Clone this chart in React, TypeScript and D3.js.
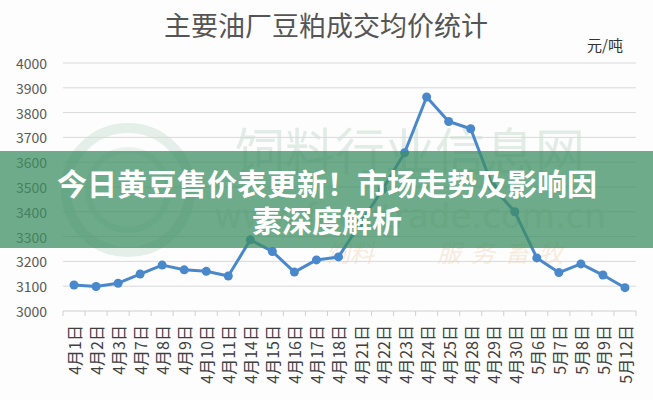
import React from "react";
import * as d3 from "d3";

const categories = [
  "4月1日", "4月2日", "4月3日", "4月7日", "4月8日", "4月9日", "4月10日", "4月11日",
  "4月14日", "4月15日", "4月16日", "4月17日", "4月18日", "4月21日", "4月22日", "4月23日",
  "4月24日", "4月25日", "4月28日", "4月29日", "4月30日", "5月6日", "5月7日", "5月8日",
  "5月9日", "5月12日",
];
const prices = [
  3105, 3099, 3112, 3149, 3185, 3166, 3160, 3141,
  3287, 3240, 3157, 3206, 3218, 3355, 3490, 3638,
  3863, 3764, 3735, 3500, 3400, 3214, 3155, 3190,
  3145, 3094,
];
const yTicks = [3000, 3100, 3200, 3300, 3400, 3500, 3600, 3700, 3800, 3900, 4000];
const title = "主要油厂豆粕成交均价统计";
const unit = "元/吨";
const bannerLines = ["今日黄豆售价表更新！市场走势及影响因", "素深度解析"];

const W = 653;
const H = 400;
const CJK = "'Noto Sans CJK SC', 'Noto Sans', sans-serif";

export default function App() {
  const x = d3.scaleBand<string>().domain(categories).range([63, 636]).padding(0);
  const y = d3.scaleLinear().domain([3000, 4000]).range([311, 63]);
  const cx = (c: string) => (x(c) ?? 0) + x.bandwidth() / 2;
  const line = d3
    .line<number>()
    .x((_, i) => cx(categories[i]))
    .y((d) => y(d));
  const lineColor = "#4a88cc";
  const boundaries = categories.map((c) => x(c) ?? 0).concat([636]);

  return (
    <svg
      width={W}
      height={H}
      style={{ position: "absolute", left: 0, top: 0, background: "#ffffff" }}
      fontFamily={CJK}
    >
      <rect x={0} y={0} width={W} height={H} fill="#fdfdfd" />
      {/* title */}
      <text x={326} y={36} textAnchor="middle" fontSize={27} fill="#555555" fontWeight={400}>
        {title}
      </text>
      <text x={605} y={51} textAnchor="middle" fontSize={15} fill="#333333">
        {unit}
      </text>

      {/* watermark (faint) */}
      <g opacity={0.5}>
        <circle cx={128} cy={190} r={62} fill="none" stroke="#cfe2d6" strokeWidth={10} />
        <circle cx={128} cy={190} r={40} fill="none" stroke="#d8e9de" strokeWidth={6} />
        <text x={410} y={170} textAnchor="middle" fontSize={50} fill="#c9ddd0">
          饲料行业信息网
        </text>
        <text x={410} y={228} textAnchor="middle" fontSize={34} fill="#cfd8d2" fontFamily="'DejaVu Sans', sans-serif">
          www.feedtrade.com.cn
        </text>
        <text x={350} y={262} textAnchor="middle" fontSize={24} fill="#f3d9c0" fontStyle="italic">
          饲料
        </text>
        <text x={505} y={262} textAnchor="middle" fontSize={24} fill="#f3d9c0" fontStyle="italic" letterSpacing={10}>
          服务畜牧
        </text>
      </g>

      {/* gridlines */}
      {yTicks.slice(1).map((t) => (
        <line key={t} x1={63} x2={636} y1={y(t)} y2={y(t)} stroke="#d9d9d9" strokeWidth={1} />
      ))}
      {/* y labels */}
      {yTicks.map((t) => (
        <text
          key={"l" + t}
          x={47}
          y={y(t)}
          textAnchor="end"
          dominantBaseline="central"
          fontSize={14}
          fill="#595959"
        >
          {t}
        </text>
      ))}
      {/* x axis */}
      <line x1={63} x2={636} y1={y(3000)} y2={y(3000)} stroke="#d0d0d0" strokeWidth={1} />
      {boundaries.map((b, i) => (
        <line key={"t" + i} x1={b} x2={b} y1={y(3000)} y2={y(3000) + 5} stroke="#d0d0d0" strokeWidth={1} />
      ))}
      {categories.map((c) => (
        <text
          key={"x" + c}
          transform={`translate(${cx(c)},${325}) rotate(-90)`}
          textAnchor="end"
          dominantBaseline="central"
          fontSize={16}
          fill="#404040"
        >
          {c}
        </text>
      ))}

      {/* series */}
      <path d={line(prices) ?? ""} fill="none" stroke={lineColor} strokeWidth={3} strokeLinejoin="round" />
      {prices.map((v, i) => (
        <circle key={"p" + i} cx={cx(categories[i])} cy={y(v)} r={4.5} fill={lineColor} />
      ))}

      {/* overlay banner */}
      <rect x={0} y={151} width={W} height={97} fill="#3d8f63" opacity={0.75} />
      {bannerLines.map((t, i) => (
        <text
          key={"b" + i}
          x={327}
          y={182 + i * 37}
          textAnchor="middle"
          dominantBaseline="central"
          fontSize={30}
          fontWeight={700}
          fill="#ffffff"
        >
          {t}
        </text>
      ))}
    </svg>
  );
}
